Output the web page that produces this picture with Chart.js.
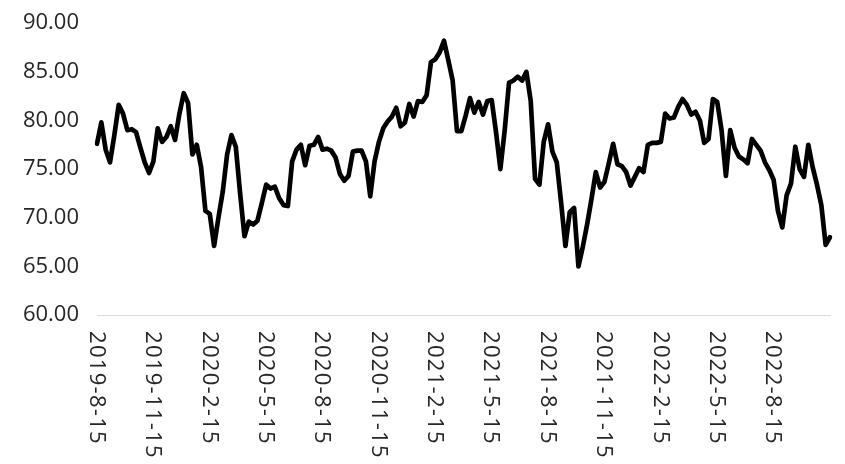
<!DOCTYPE html>
<html>
<head>
<meta charset="utf-8">
<script src="https://cdn.jsdelivr.net/npm/chart.js@4"></script>
<style>
  html, body { margin: 0; padding: 0; background: #fff; }
  #wrap { width: 845px; height: 464px; position: relative; }
</style>
</head>
<body>
<div id="wrap"><canvas id="chart"></canvas></div>
<script>
// weekly index values
const values = [
  77.6, 79.8, 77.0, 75.7, 78.5, 81.6, 80.7, 79.0, 79.1, 78.8,
  77.2, 75.7, 74.6, 75.8, 79.2, 77.8, 78.3, 79.4, 78.0, 80.7,
  82.8, 81.8, 76.5, 77.5, 75.2, 70.7, 70.4, 67.1, 70.0, 72.7,
  76.5, 78.5, 77.3, 72.5, 68.1, 69.6, 69.3, 69.7, 71.5, 73.4,
  73.0, 73.2, 72.0, 71.3, 71.2, 75.8, 77.0, 77.5, 75.4, 77.4,
  77.5, 78.3, 77.0, 77.1, 76.9, 76.2, 74.5, 73.8, 74.3, 76.8,
  76.9, 76.9, 75.8, 72.2, 75.8, 77.8, 79.2, 79.9, 80.4, 81.3,
  79.4, 79.8, 81.7, 80.4, 82.0, 81.9, 82.6, 86.0, 86.3, 87.0,
  88.2, 86.2, 84.1, 78.9, 78.9, 80.5, 82.3, 80.8, 81.9, 80.6,
  82.0, 82.1, 78.8, 75.0, 79.0, 83.9, 84.1, 84.5, 84.1, 85.0,
  82.0, 74.0, 73.4, 77.8, 79.6, 76.8, 75.7, 71.6, 67.1, 70.6,
  71.0, 65.0, 67.0, 69.3, 71.9, 74.7, 73.1, 73.7, 75.6, 77.6,
  75.5, 75.3, 74.7, 73.3, 74.2, 75.1, 74.7, 77.5, 77.7, 77.7,
  77.8, 80.7, 80.2, 80.3, 81.4, 82.2, 81.6, 80.6, 80.9, 80.0,
  77.7, 78.1, 82.2, 81.9, 79.0, 74.3, 79.0, 77.2, 76.3, 76.0,
  75.6, 78.1, 77.5, 76.9, 75.7, 74.9, 73.9, 70.7, 69.0, 72.3,
  73.5, 77.3, 75.0, 74.2, 77.5, 75.2, 73.4, 71.3, 67.2, 68.0
];

// quarterly axis labels, one every 13 weeks
const tickLabels = [
  "2019-8-15", "2019-11-15", "2020-2-15", "2020-5-15", "2020-8-15",
  "2020-11-15", "2021-2-15", "2021-5-15", "2021-8-15", "2021-11-15",
  "2022-2-15", "2022-5-15", "2022-8-15"
];
const tickEvery = 13;

const yMin = 60;
const yMax = 90;
const yStep = 5;

const weeks = values.map((_, i) => i);
const FONT = "'Open Sans', 'Noto Sans', sans-serif";
const TEXT_COLOR = "#262626";

// draw x labels rotated clockwise, reading top to bottom
const verticalLabels = {
  id: "verticalLabels",
  afterDraw(chart) {
    const { ctx, scales } = chart;
    const xScale = scales.x;
    ctx.save();
    ctx.font = `22px ${FONT}`;
    ctx.fillStyle = TEXT_COLOR;
    ctx.textAlign = "left";
    ctx.textBaseline = "middle";
    if ("letterSpacing" in ctx) ctx.letterSpacing = "1.3px";
    tickLabels.forEach((label, k) => {
      const x = xScale.getPixelForValue(k * tickEvery);
      ctx.save();
      ctx.translate(x - 1, xScale.top + 16);
      ctx.rotate(Math.PI / 2);
      ctx.fillText(label, 0, 0);
      ctx.restore();
    });
    ctx.restore();
  },
};

new Chart(document.getElementById("chart"), {
  type: "line",
  data: {
    labels: weeks,
    datasets: [
      {
        data: values,
        borderColor: "#000000",
        borderWidth: 4.7,
        borderJoinStyle: "round",
        borderCapStyle: "round",
        pointRadius: 0,
        tension: 0,
        fill: false,
      },
    ],
  },
  options: {
    responsive: true,
    maintainAspectRatio: false,
    animation: false,
    layout: { padding: { top: 8, right: 15, left: 0, bottom: 0 } },
    plugins: { legend: { display: false }, tooltip: { enabled: false } },
    scales: {
      x: {
        type: "category",
        offset: false,
        grid: { display: false },
        border: { display: true, color: "#d9d9d9", width: 1 },
        ticks: { display: false },
        afterFit(scale) {
          scale.height = 149;
        },
      },
      y: {
        min: yMin,
        max: yMax,
        grid: { display: false },
        border: { display: false },
        ticks: {
          stepSize: yStep,
          color: TEXT_COLOR,
          font: { family: FONT, size: 22 },
          padding: 10,
          callback: (v) => Number(v).toFixed(2),
        },
        afterFit(scale) {
          scale.width = 97;
        },
      },
    },
  },
  plugins: [verticalLabels],
});
</script>
</body>
</html>
